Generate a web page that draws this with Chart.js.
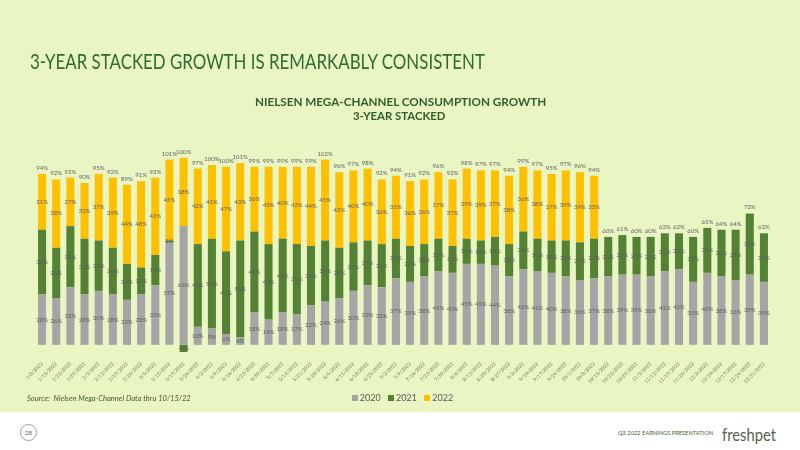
<!DOCTYPE html>
<html><head><meta charset="utf-8">
<script src="https://cdn.jsdelivr.net/npm/chart.js@4.4.0/dist/chart.umd.min.js"></script>
<style>
html,body{margin:0;padding:0;width:800px;height:450px;overflow:hidden;background:#ffffff;font-family:Lato,'Open Sans',sans-serif;}
#bg{position:absolute;left:0;top:0;width:800px;height:412px;background:#EAF5C4;}
#wrap{position:absolute;left:0;top:0;width:800px;height:412px;}
.fit{position:absolute;white-space:nowrap;line-height:1;transform-origin:0 50%;}
#leg{position:absolute;top:393px;left:0;width:800px;text-align:center;font-size:9px;color:#595959;line-height:10px;}
#leg span.sq{display:inline-block;width:6px;height:6px;margin:0 2px 0 5px;vertical-align:0px;}
#pg{position:absolute;left:20px;top:424px;width:15px;height:15px;border:1px solid #9a9a9a;border-radius:50%;font-size:6px;color:#666;text-align:center;line-height:15px;}
</style></head><body>
<div id="bg"></div>
<div id="wrap"><canvas id="c" width="800" height="412"></canvas></div>
<div class="fit" data-l="30" data-cy="60" data-w="455" style="font-size:21px;color:#2F6B2F;">3-YEAR STACKED GROWTH IS REMARKABLY CONSISTENT</div>
<div class="fit" data-cx="400" data-cy="101" data-w="291" style="font-size:11px;font-weight:bold;color:#2F5F2A;">NIELSEN MEGA-CHANNEL CONSUMPTION GROWTH</div>
<div class="fit" data-cx="399" data-cy="115" data-w="92" style="font-size:11px;font-weight:bold;color:#2F5F2A;">3-YEAR STACKED</div>
<div class="fit" data-l="27" data-cy="398" data-w="164" style="font-size:8px;font-style:italic;color:#3F5E30;">Source:&nbsp; Nielsen Mega-Channel Data thru 10/15/22</div>
<div id="leg"><span class="sq" style="background:#A5A5A5"></span>2020 <span class="sq" style="background:#548235"></span>2021 <span class="sq" style="background:#FFC000"></span>2022</div>
<div id="pg">28</div>
<div class="fit" data-l="618" data-cy="433" data-w="95" style="font-size:6px;color:#3F5E30;">Q3 2022 EARNINGS PRESENTATION</div>
<div class="fit" data-l="722" data-cy="434" data-w="54" style="font-size:17px;color:#55634A;">freshpet</div>
<script>
const weeks = ["1/8/2022","1/15/2022","1/22/2022","1/29/2022","2/5/2022","2/12/2022","2/19/2022","2/26/2022","3/5/2022","3/12/2022","3/19/2022","3/26/2022","4/2/2022","4/9/2022","4/16/2022","4/23/2022","4/30/2022","5/7/2022","5/14/2022","5/21/2022","5/28/2022","6/4/2022","6/11/2022","6/18/2022","6/25/2022","7/2/2022","7/9/2022","7/16/2022","7/23/2022","7/30/2022","8/6/2022","8/13/2022","8/20/2022","8/27/2022","9/3/2022","9/10/2022","9/17/2022","9/24/2022","10/1/2022","10/8/2022","10/15/2022","10/22/2022","10/29/2022","11/5/2022","11/12/2022","11/19/2022","11/26/2022","12/3/2022","12/10/2022","12/17/2022","12/24/2022","12/31/2022"];
const growth2020 = [28,26,32,28,30,28,25,28,33,57,66,10,9,6,4,18,14,18,17,22,24,26,30,33,32,37,35,38,41,40,45,45,44,38,42,41,40,38,36,37,38,39,39,38,41,42,35,40,38,36,39,35];
const growth2021 = [36,28,34,31,28,26,20,15,17,1,-4,46,50,46,54,45,42,41,39,33,34,28,27,25,24,22,20,18,18,15,14,13,16,18,21,18,18,20,21,22,22,22,21,22,21,20,25,25,26,28,34,27];
const growth2022 = [31,38,27,31,37,39,44,48,43,45,38,42,41,47,43,36,43,40,43,44,45,42,40,40,36,35,36,36,37,37,39,39,37,38,36,38,37,39,39,35,null,null,null,null,null,null,null,null,null,null,null,null];
const stackTotals = [94,92,93,90,95,92,89,91,93,101,100,97,100,100,101,99,99,99,99,99,102,96,97,98,92,94,91,92,96,92,98,97,97,94,99,97,95,97,96,94,60,61,60,60,62,62,60,65,64,64,73,62];

document.querySelectorAll('.fit').forEach(el=>{
  const w = el.offsetWidth, h = el.offsetHeight;
  const target = +el.dataset.w, s = target / w;
  const left = el.dataset.l !== undefined ? +el.dataset.l : (+el.dataset.cx - target/2);
  el.style.left = left + 'px';
  el.style.top = (+el.dataset.cy - h/2) + 'px';
  el.style.transform = 'scaleX(' + s + ')';
});

const valueLabels = {
  id: 'valueLabels',
  afterDatasetsDraw(chart) {
    const ctx = chart.ctx;
    ctx.save();
    ctx.font = '6px Lato, sans-serif';
    ctx.fillStyle = '#5f5f5f';
    ctx.textAlign = 'center';
    ctx.textBaseline = 'middle';
    chart.data.datasets.forEach((ds, i) => {
      const meta = chart.getDatasetMeta(i);
      meta.data.forEach((el, j) => {
        const v = ds.data[j];
        if (v == null) return;
        ctx.fillText(v + '%', el.x, (el.y + el.base) / 2);
      });
    });
    stackTotals.forEach((t, j) => {
      let top = Infinity, x = 0;
      chart.data.datasets.forEach((ds, i) => {
        const el = chart.getDatasetMeta(i).data[j];
        if (ds.data[j] != null) { top = Math.min(top, el.y, el.base); x = el.x; }
      });
      ctx.fillText(t + '%', x, top - 6);
    });
    ctx.restore();
  }
};

new Chart(document.getElementById('c'), {
  type: 'bar',
  data: {
    labels: weeks,
    datasets: [
      {label: '2020', data: growth2020, backgroundColor: '#A5A5A5', barPercentage: 0.57, categoryPercentage: 1},
      {label: '2021', data: growth2021, backgroundColor: '#548235', barPercentage: 0.57, categoryPercentage: 1},
      {label: '2022', data: growth2022, backgroundColor: '#FFC000', barPercentage: 0.57, categoryPercentage: 1}
    ]
  },
  options: {
    responsive: false,
    animation: false,
    layout: {padding: {left: 35, right: 29, top: 147, bottom: 0}},
    plugins: {legend: {display: false}, tooltip: {enabled: false}, title: {display: false}},
    scales: {
      x: {
        stacked: true,
        grid: {display: false},
        border: {display: false},
        ticks: {font: {size: 5, family: 'Lato'}, color: '#6C8452', minRotation: 45, maxRotation: 45, autoSkip: false, padding: 1},
        afterFit(scale) { scale.height = 60; }
      },
      y: {stacked: true, display: false, min: -4, max: 110}
    }
  },
  plugins: [valueLabels]
});
</script>
</body></html>
